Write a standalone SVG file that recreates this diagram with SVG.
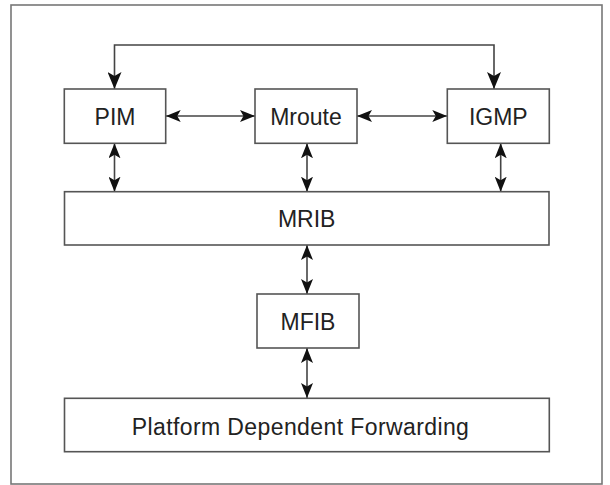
<svg xmlns="http://www.w3.org/2000/svg" width="610" height="485" viewBox="0 0 610 485">
  <style>
    .box { fill: #ffffff; stroke: #555555; stroke-width: 1.6; }
    .lbl { font-family: "Liberation Sans", Arial, sans-serif; font-size: 23px; fill: #222222; text-anchor: middle; }
    .conn { fill: none; stroke: #444444; stroke-width: 1.6; marker-start: url(#arr); marker-end: url(#arr); }
    .loop { fill: none; stroke: #444444; stroke-width: 1.6; marker-start: url(#arrL); marker-end: url(#arrL); }
  </style>
  <defs>
    <marker id="arr" viewBox="0 0 15 12" refX="15" refY="6" markerWidth="15" markerHeight="12" markerUnits="userSpaceOnUse" orient="auto-start-reverse">
      <path d="M0,0 L15,6 L0,12 L3.5,6 Z" fill="#111111"/>
    </marker>
    <marker id="arrL" viewBox="0 0 17 14" refX="17" refY="7" markerWidth="17" markerHeight="14" markerUnits="userSpaceOnUse" orient="auto-start-reverse">
      <path d="M0,0 L17,7 L0,14 L4,7 Z" fill="#111111"/>
    </marker>
  </defs>
  <rect x="0" y="0" width="610" height="485" fill="#ffffff"/>
  <rect x="11" y="5" width="591" height="479" fill="none" stroke="#777777" stroke-width="1.6"/>

  <g id="connectors">
    <path class="loop" d="M114.5,89 V45 H494 V89"/>
    <path class="conn" d="M165.7,116 H255"/>
    <path class="conn" d="M357,116 H447.3"/>
    <path class="conn" d="M114.5,143.3 V191.7"/>
    <path class="conn" d="M307,143.3 V191.7"/>
    <path class="conn" d="M500.7,143.3 V191.7"/>
    <path class="conn" d="M307,245 V294"/>
    <path class="conn" d="M307,348 V398"/>
  </g>

  <g id="pim">
    <rect class="box" x="64.3" y="89" width="101.4" height="54.3"/>
    <text class="lbl" x="115" y="124.5">PIM</text>
  </g>
  <g id="mroute">
    <rect class="box" x="255" y="89" width="102" height="54.3"/>
    <text class="lbl" x="306" y="124.5">Mroute</text>
  </g>
  <g id="igmp">
    <rect class="box" x="447.3" y="89" width="102" height="54.3"/>
    <text class="lbl" x="498.3" y="124.5">IGMP</text>
  </g>
  <g id="mrib">
    <rect class="box" x="64.5" y="191.7" width="484.5" height="53.3"/>
    <text class="lbl" x="306.7" y="227">MRIB</text>
  </g>
  <g id="mfib">
    <rect class="box" x="257" y="294" width="102" height="54"/>
    <text class="lbl" x="308" y="330">MFIB</text>
  </g>
  <g id="platform">
    <rect class="box" x="64.5" y="398.3" width="484.8" height="53.4"/>
    <text class="lbl" x="300.5" y="435" style="letter-spacing:0.4px">Platform Dependent Forwarding</text>
  </g>
</svg>
